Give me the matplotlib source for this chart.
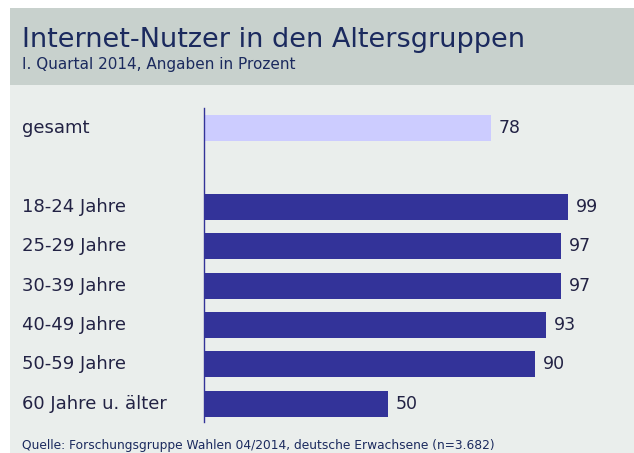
import matplotlib.pyplot as plt
import matplotlib.transforms as mtransforms
from matplotlib.patches import Rectangle

# Data
categories = ['gesamt', '18-24 Jahre', '25-29 Jahre', '30-39 Jahre',
              '40-49 Jahre', '50-59 Jahre', '60 Jahre u. älter']
values = [78, 99, 97, 97, 93, 90, 50]
slots = [0, 2, 3, 4, 5, 6, 7]

title = 'Internet-Nutzer in den Altersgruppen'
subtitle = 'I. Quartal 2014, Angaben in Prozent'
source = 'Quelle: Forschungsgruppe Wahlen 04/2014, deutsche Erwachsene (n=3.682)'

W, H = 634, 453
fig = plt.figure(figsize=(W / 100, H / 100), dpi=100)
fig.patch.set_facecolor('white')

# background panels (header + body), behind the axes
fig.add_artist(Rectangle((10 / W, 1 - 85 / H), 1 - 10 / W, 77 / H,
                         transform=fig.transFigure, facecolor='#C8D1CD',
                         edgecolor='none', zorder=-10))
fig.add_artist(Rectangle((10 / W, 0), 1 - 10 / W, 1 - 85 / H,
                         transform=fig.transFigure, facecolor='#EAEEEC',
                         edgecolor='none', zorder=-10))

navy = '#1B2A5E'
fig.text(22 / W, 1 - 40 / H, title, fontsize=19.5, color=navy,
         va='center', ha='left')
fig.text(22 / W, 1 - 64 / H, subtitle, fontsize=11, color=navy,
         va='center', ha='left')

ax = fig.add_axes([204 / W, 1 - 422 / H, 1 - 204 / W, (422 - 108) / H])
ax.set_facecolor('none')

colors = ['#CCCCFF'] + ['#333399'] * (len(values) - 1)
ax.barh(slots, values, height=0.66, color=colors, edgecolor='none')
ax.set_xlim(0, (W - 204) / 3.677)
ax.set_ylim(7.46, -0.51)

for s, v in zip(slots, values):
    ax.text(v + 2.1, s, str(v), va='center', ha='left', fontsize=12.5,
            color='#222244')

trans = mtransforms.blended_transform_factory(fig.transFigure, ax.transData)
for s, c in zip(slots, categories):
    ax.text(22 / W, s, c, transform=trans, va='center', ha='left',
            fontsize=13, color='#222244')

for side in ['top', 'right', 'bottom']:
    ax.spines[side].set_visible(False)
ax.spines['left'].set_color('#333399')
ax.spines['left'].set_linewidth(1)
ax.set_xticks([])
ax.set_yticks([])

fig.text(22 / W, 1 - 445 / H, source, fontsize=8.8, color=navy,
         va='center', ha='left')

fig.savefig('out.png', dpi=100)
